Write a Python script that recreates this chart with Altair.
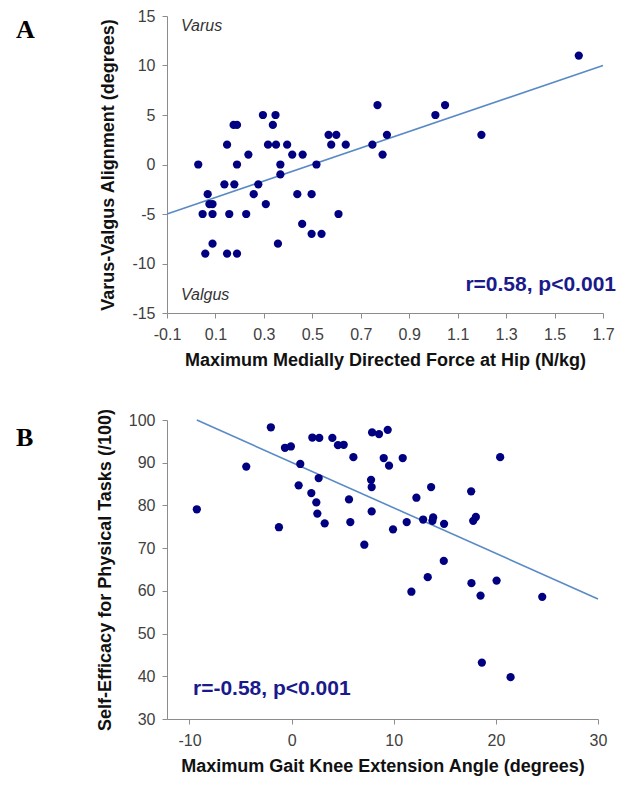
import altair as alt
import pandas as pd

# ---------------- Panel A data ----------------
a_force = [0.029, 0.047, 0.058, 0.068, 0.075, 0.088, 0.088, 0.088, 0.137, 0.148,
           0.148, 0.157, 0.175, 0.189, 0.178, 0.189, 0.189, 0.227, 0.236, 0.258,
           0.277, 0.296, 0.308, 0.317, 0.337, 0.348, 0.350, 0.358, 0.368, 0.368,
           0.396, 0.417, 0.438, 0.460, 0.458, 0.497, 0.497, 0.517, 0.538, 0.567,
           0.578, 0.599, 0.608, 0.638, 0.748, 0.769, 0.790, 0.808, 1.008, 1.048,
           1.198, 1.600]
a_align = [0, -5, -9, -3, -4, -4, -5, -8, -2, 2,
           -9, -5, 4, 4, -2, 0, -9, -5, 1, -3,
           -2, 5, -4, 2, 4, 5, 2, -8, 0, -1,
           2, 1, -3, 1, -6, -3, -7, 0, -7, 3,
           2, 3, -5, 2, 2, 6, 1, 3, 5, 6,
           3, 11]
a_trend_x = [-0.1, 1.7]
a_trend_y = [-5, 10]
a_xticks = [-0.1, 0.1, 0.3, 0.5, 0.7, 0.9, 1.1, 1.3, 1.5, 1.7]
a_yticks = [-15, -10, -5, 0, 5, 10, 15]

# ---------------- Panel B data ----------------
b_angle = [-9.28, -4.44, -2.03, -1.24, -0.65, -0.07, 0.85, 0.69, 1.93, 2.03,
           2.71, 2.65, 2.42, 2.52, 3.24, 3.99, 4.54, 5.10, 6.05, 5.62,
           5.75, 7.12, 7.78, 7.84, 7.88, 8.56, 7.84, 9.41, 9.02, 9.54,
           9.93, 10.88, 11.27, 11.73, 12.22, 12.88, 13.66, 13.86, 13.79, 13.33,
           14.93, 14.90, 17.58, 17.78, 18.04, 17.61, 18.50, 18.63, 20.07, 20.42,
           21.44, 24.54]
b_eff = [79.1, 89.1, 98.3, 74.9, 93.5, 93.8, 89.7, 84.7, 82.9, 95.9,
         95.8, 86.4, 80.7, 78.1, 75.8, 95.8, 94.1, 94.2, 91.3, 81.4,
         76.1, 70.8, 86.0, 84.3, 97.1, 96.7, 78.6, 97.7, 91.1, 89.3,
         74.4, 91.1, 76.1, 59.8, 81.8, 76.7, 84.3, 77.2, 76.4, 63.2,
         75.7, 67.0, 83.3, 76.4, 77.3, 61.8, 58.9, 43.2, 62.4, 91.3,
         39.8, 58.6]
b_trend_x = [-9.28, 30]
b_trend_y = [100, 58.1]
b_xticks = [-10, 0, 10, 20, 30]
b_yticks = [30, 40, 50, 60, 70, 80, 90, 100]

FONT = "Liberation Sans"
NAVY = "#000080"
LINE = "#5A8AC6"
AX = "#8C8C8C"
HYPHEN = "replace(datum.label, '\u2212', '-')"


def axis(title, values, fmt, orient):
    common = dict(values=values, format=fmt, grid=False, domainColor=AX,
                  tickColor=AX, tickSize=5, labelColor="#404040", labelFontSize=16,
                  labelFont=FONT, labelExpr=HYPHEN, title=title, titleFont=FONT,
                  titleFontSize=18, titleFontWeight="bold", titleColor="#111111")
    if orient == "x":
        common.update(labelPadding=8, titlePadding=9, labelFlush=False)
    else:
        common.update(labelPadding=7, titlePadding=14)
    return alt.Axis(**common)


def text_layer(txt, x, y, size, color, weight="normal", style="normal",
               align="left", font=FONT):
    return alt.Chart(pd.DataFrame({"t": [txt]})).mark_text(
        align=align, baseline="middle", fontSize=size, fontWeight=weight,
        fontStyle=style, color=color, font=font
    ).encode(x=alt.value(x), y=alt.value(y), text="t:N")


# ---------------- Panel A ----------------
dfa = pd.DataFrame({"x": a_force, "y": a_align})
dfa_t = pd.DataFrame({"x": a_trend_x, "y": a_trend_y})
xa = alt.X("x:Q", scale=alt.Scale(domain=[-0.1, 1.7], nice=False, zero=False),
           axis=axis("Maximum Medially Directed Force at Hip (N/kg)", a_xticks, ".1f", "x"))
ya = alt.Y("y:Q", scale=alt.Scale(domain=[-15, 15], nice=False, zero=False),
           axis=axis("Varus-Valgus Alignment (degrees)", a_yticks, "d", "y"))

pa = alt.Chart(dfa).mark_circle(size=68, color=NAVY, opacity=1).encode(x=xa, y=ya)
la = alt.Chart(dfa_t).mark_line(color=LINE, strokeWidth=1.6).encode(x=xa, y=ya)
panel_a = alt.layer(
    la, pa,
    text_layer("Varus", 14, 10, 16, "#333333", style="italic"),
    text_layer("Valgus", 14, 279, 16, "#333333", style="italic"),
    text_layer("r=0.58, p<0.001", 449, 269, 21, "#1A1A8C", weight="bold", align="right"),
    text_layer("A", -151, 14, 26, "#000000", weight="bold", font="Liberation Serif"),
).properties(width=436, height=297)

# ---------------- Panel B ----------------
dfb = pd.DataFrame({"x": b_angle, "y": b_eff})
dfb_t = pd.DataFrame({"x": b_trend_x, "y": b_trend_y})
xb = alt.X("x:Q", scale=alt.Scale(domain=[-12.2, 30], nice=False, zero=False),
           axis=axis("Maximum Gait Knee Extension Angle (degrees)", b_xticks, "d", "x"))
yb = alt.Y("y:Q", scale=alt.Scale(domain=[30, 100], nice=False, zero=False),
           axis=axis("Self-Efficacy for Physical Tasks (/100)", b_yticks, "d", "y"))

pb = alt.Chart(dfb).mark_circle(size=68, color=NAVY, opacity=1).encode(x=xb, y=yb)
lb = alt.Chart(dfb_t).mark_line(color=LINE, strokeWidth=1.6).encode(x=xb, y=yb)
panel_b = alt.layer(
    lb, pb,
    text_layer("r=-0.58, p<0.001", 26, 269, 21, "#1A1A8C", weight="bold"),
    text_layer("B", -151, 18, 26, "#000000", weight="bold", font="Liberation Serif"),
).properties(width=431, height=299)

chart = alt.vconcat(panel_a, panel_b, spacing=39).properties(
    padding={"left": 8, "top": 0, "right": 2, "bottom": 1}
).configure_view(stroke=None)

chart.save("out.html", embed_options={"renderer": "svg", "actions": False})
